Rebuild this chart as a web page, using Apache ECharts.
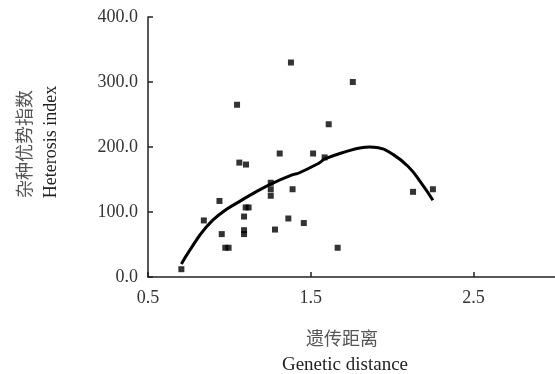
<!DOCTYPE html>
<html>
<head>
<meta charset="utf-8">
<script src="https://cdn.jsdelivr.net/npm/echarts@6/dist/echarts.min.js"></script>
<style>
html,body{margin:0;padding:0;background:#fff;}
#c{width:555px;height:374px;}
</style>
</head>
<body>
<div id="c"></div>
<script>
// Scatter observations (genetic distance, heterosis index)
var distX = [0.705, 0.843, 0.939, 0.953, 0.975, 0.995, 1.047, 1.061, 1.102, 1.100, 1.118, 1.090, 1.090, 1.090, 1.254, 1.254, 1.254, 1.280, 1.309, 1.362, 1.378, 1.388, 1.457, 1.514, 1.585, 1.610, 1.665, 1.758, 2.128, 2.250];
var heteroY = [12, 87, 117, 66, 45, 45, 265, 176, 173, 107, 107, 93, 72, 66, 145, 135, 125, 73, 190, 90, 330, 135, 83, 190, 184, 235, 45, 300, 131, 135];
// Fitted trend curve points
var curveX = [0.705, 0.756, 0.858, 0.959, 1.061, 1.163, 1.264, 1.386, 1.427, 1.549, 1.590, 1.730, 1.810, 1.860, 1.915, 1.996, 2.098, 2.180, 2.250];
var curveY = [20, 41, 77, 100, 116, 131, 144, 157, 160, 175, 182, 194, 199, 200, 199, 190, 170, 144, 118];
var xTicks = [0.5, 1.5, 2.5];
var yTicks = [0, 100, 200, 300, 400];

var scatterData = distX.map(function(x, i){ return [x, heteroY[i]]; });
var curveData = curveX.map(function(x, i){ return [x, curveY[i]]; });

var chart = echarts.init(document.getElementById('c'));
var serif = '"Liberation Serif","DejaVu Serif",serif';
var cjk = '"Noto Sans CJK SC",sans-serif';
chart.setOption({
  animation: false,
  backgroundColor: '#fff',
  grid: {left: 148, top: 17, right: -3, bottom: 97, containLabel: false},
  xAxis: {
    type: 'value', min: 0.5, max: 3.0, interval: 1,
    axisLine: {lineStyle: {color: '#222', width: 1.5}},
    axisTick: {inside: true, length: 5, lineStyle: {color: '#222', width: 1.5}},
    axisLabel: {color: '#333', fontFamily: serif, fontSize: 18, margin: 12, showMaxLabel: false,
      formatter: function(v){ return xTicks.indexOf(v) >= 0 ? v.toFixed(1) : ''; }},
    splitLine: {show: false}
  },
  yAxis: {
    type: 'value', min: 0, max: 400, interval: 100,
    axisLine: {show: true, lineStyle: {color: '#222', width: 1.5}},
    axisTick: {show: true, inside: true, length: 5, lineStyle: {color: '#222', width: 1.5}},
    axisLabel: {color: '#333', fontFamily: serif, fontSize: 18, margin: 10,
      formatter: function(v){ return yTicks.indexOf(v) >= 0 ? v.toFixed(1) : ''; }},
    splitLine: {show: false}
  },
  series: [
    {type: 'scatter', data: scatterData, symbol: 'rect', symbolSize: 6,
     itemStyle: {color: '#000'}, z: 3},
    {type: 'line', data: curveData, smooth: true, showSymbol: false, symbol: 'none',
     lineStyle: {color: '#000', width: 3}, z: 2}
  ],
  graphic: [
    {type: 'text', rotation: Math.PI/2,
     style: {text: '杂种优势指数', font: '18px ' + cjk, fill: '#555', textAlign: 'center', textVerticalAlign: 'middle', x: 0, y: 0},
     position: [24, 144]},
    {type: 'text', rotation: Math.PI/2,
     style: {text: 'Heterosis index', font: '18px ' + serif, fill: '#222', textAlign: 'center', textVerticalAlign: 'middle', x: 0, y: 0},
     position: [51, 142]},
    {type: 'text',
     style: {text: '遗传距离', font: '18px ' + cjk, fill: '#555', textAlign: 'center', textVerticalAlign: 'middle', x: 0, y: 0},
     position: [342, 338]},
    {type: 'text',
     style: {text: 'Genetic distance', font: '19px ' + serif, fill: '#222', textAlign: 'center', textVerticalAlign: 'middle', x: 0, y: 0},
     position: [345, 365]}
  ]
});
</script>
</body>
</html>
